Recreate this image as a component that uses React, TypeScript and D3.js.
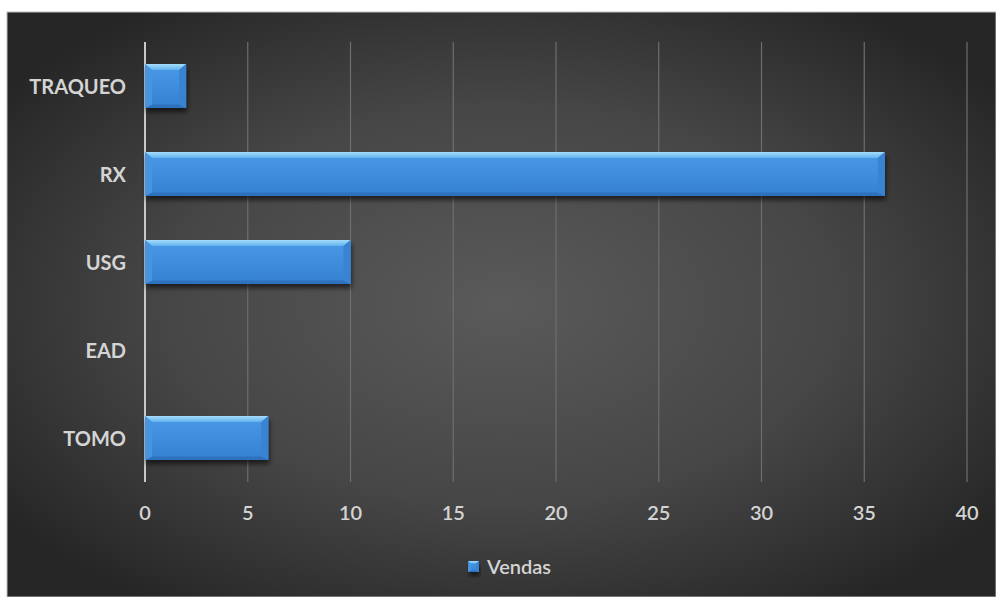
import React from "react";
import * as d3 from "d3";

const categories = ["TRAQUEO", "RX", "USG", "EAD", "TOMO"];
const values = [2, 36, 10, 0, 6];
const xTicks = [0, 5, 10, 15, 20, 25, 30, 35, 40];
const seriesName = "Vendas";

const W = 996;
const H = 597;
const bg = { x: 7, y: 12, w: W - 7, h: H - 12 };
const plot = { left: 145, right: 967, top: 42, bottom: 482 };

export default function App() {
  const x = d3.scaleLinear().domain([0, 40]).range([plot.left, plot.right]);
  const y = d3
    .scaleBand<string>()
    .domain(categories)
    .range([plot.top, plot.bottom])
    .paddingInner(0.5)
    .paddingOuter(0.25);
  const font = "Lato, 'Open Sans', sans-serif";
  const bevel = (x0: number, y0: number, x1: number, y1: number, b: number, key: string) => {
    const bb = Math.min(b, (x1 - x0) / 2);
    return (
      <g key={key}>
        <rect x={x0} y={y0} width={x1 - x0} height={y1 - y0} fill="url(#barBody)" />
        <polygon
          points={`${x0},${y0} ${x1},${y0} ${x1 - bb},${y0 + b * 0.85} ${x0 + bb},${y0 + b * 0.85}`}
          fill="url(#barTop)"
        />
        <polygon
          points={`${x0},${y1} ${x1},${y1} ${x1 - bb},${y1 - b * 0.5} ${x0 + bb},${y1 - b * 0.5}`}
          fill="#2f72bd"
        />
        <polygon
          points={`${x0},${y0} ${x0 + bb},${y0 + b * 0.85} ${x0 + bb},${y1 - b * 0.5} ${x0},${y1}`}
          fill="#4695e0"
        />
        <polygon
          points={`${x1},${y0} ${x1 - bb},${y0 + b * 0.85} ${x1 - bb},${y1 - b * 0.5} ${x1},${y1}`}
          fill="#3784d2"
        />
      </g>
    );
  };
  return (
    <svg width={W} height={H} style={{ position: "absolute", left: 0, top: 0 }}>
      <defs>
        <radialGradient id="bgGrad" cx="0.5" cy="0.5" r="0.62">
          <stop offset="0" stopColor="#5a5a5a" />
          <stop offset="0.55" stopColor="#464646" />
          <stop offset="1" stopColor="#262626" />
        </radialGradient>
        <linearGradient id="barBody" x1="0" y1="0" x2="0" y2="1">
          <stop offset="0" stopColor="#4a9ae6" />
          <stop offset="0.6" stopColor="#3d8bda" />
          <stop offset="1" stopColor="#3580cf" />
        </linearGradient>
        <linearGradient id="barTop" x1="0" y1="0" x2="0" y2="1">
          <stop offset="0" stopColor="#a6dcfa" />
          <stop offset="1" stopColor="#62b2ef" />
        </linearGradient>
        <filter id="shadow" x="-10%" y="-30%" width="120%" height="180%">
          <feGaussianBlur in="SourceAlpha" stdDeviation="2.5" />
          <feOffset dx="1" dy="4" result="ob" />
          <feComponentTransfer>
            <feFuncA type="linear" slope="0.6" />
          </feComponentTransfer>
          <feMerge>
            <feMergeNode />
            <feMergeNode in="SourceGraphic" />
          </feMerge>
        </filter>
      </defs>
      <rect x={0} y={0} width={W} height={H} fill="#ffffff" />
      <rect x={bg.x} y={bg.y} width={bg.w} height={bg.h} fill="url(#bgGrad)" stroke="#bdbdbd" strokeWidth={1} />
      {xTicks.map((t) => (
        <line
          key={"g" + t}
          x1={x(t)}
          x2={x(t)}
          y1={plot.top}
          y2={plot.bottom}
          stroke={t === 0 ? "#c8c8c8" : "#6e6e6e"}
          strokeWidth={t === 0 ? 2 : 1.2}
        />
      ))}
      {categories.map((c, i) => {
        const v = values[i];
        const y0 = y(c)!;
        const y1 = y0 + y.bandwidth();
        if (v <= 0) return null;
        return (
          <g key={c} filter="url(#shadow)">
            {bevel(x(0), y0, x(v), y1, 7, c)}
          </g>
        );
      })}
      {categories.map((c) => (
        <text
          key={"l" + c}
          x={plot.left - 19}
          y={y(c)! + y.bandwidth() / 2}
          textAnchor="end"
          dominantBaseline="central"
          fill="#d4d4d4"
          fontFamily={font}
          fontWeight={700}
          fontSize={20}
        >
          {c}
        </text>
      ))}
      {xTicks.map((t) => (
        <text
          key={"t" + t}
          x={x(t)}
          y={512}
          textAnchor="middle"
          dominantBaseline="central"
          fill="#d4d4d4"
          fontFamily={font}
          fontWeight={600}
          fontSize={20}
        >
          {t}
        </text>
      ))}
      <g filter="url(#shadow)">{bevel(468, 561, 479, 572, 3, "leg")}</g>
      <text
        x={487}
        y={566}
        dominantBaseline="central"
        fill="#d4d4d4"
        fontFamily={font}
        fontWeight={600}
        fontSize={20}
      >
        {seriesName}
      </text>
    </svg>
  );
}
